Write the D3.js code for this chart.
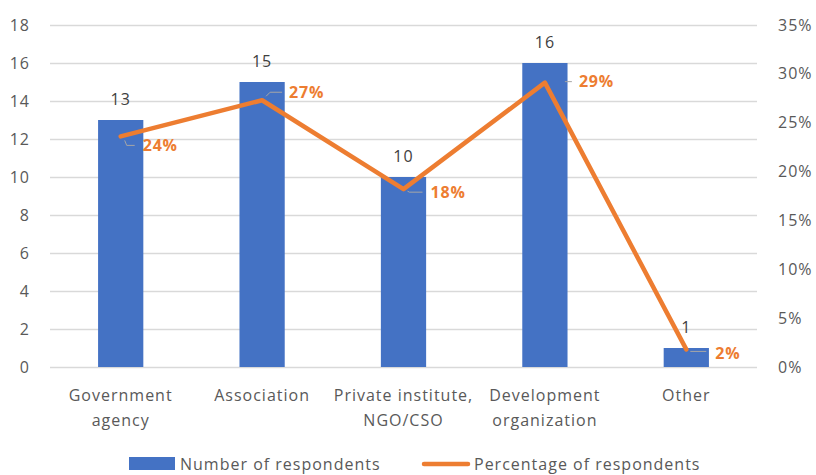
<!DOCTYPE html>
<html>
<head>
<meta charset="utf-8">
<script src="https://cdn.jsdelivr.net/npm/d3@7"></script>
<style>
  body { margin: 0; background: #fff; }
  text { font-family: "Open Sans", Lato, sans-serif; }
</style>
</head>
<body>
<script>
// data
const categories = ["Government agency", "Association", "Private institute, NGO/CSO", "Development organization", "Other"];
const categoryLines = [["Government", "agency"], ["Association"], ["Private institute,", "NGO/CSO"], ["Development", "organization"], ["Other"]];
const respondents = [13, 15, 10, 16, 1];
const percentages = [0.236, 0.273, 0.182, 0.291, 0.018];
const percentLabels = ["24%", "27%", "18%", "29%", "2%"];
const leftTicks = [0, 2, 4, 6, 8, 10, 12, 14, 16, 18];
const rightTicks = [0, 0.05, 0.10, 0.15, 0.20, 0.25, 0.30, 0.35];

// label placement (offset from point, px)
const labelOffsets = [
  { dx: 22, dy: 9, leader: [[4, 4], [6, 9], [14, 9]] },
  { dx: 27, dy: -8, leader: [[4, -4], [8, -8], [20, -8]] },
  { dx: 27, dy: 3, leader: [[4, 2], [6, 3], [19, 3]] },
  { dx: 34, dy: -1, leader: [[20, -1], [27, -1]] },
  { dx: 29, dy: 4, leader: [[4, 2], [20, 2]] }
];

const width = 816, height = 475;
const margin = { top: 25, right: 59, bottom: 108, left: 50 };
const innerW = width - margin.left - margin.right;
const innerH = height - margin.top - margin.bottom;
const fontSize = "16px";
const spacing = "1px";

const svg = d3.select("body").append("svg")
  .attr("width", width)
  .attr("height", height);

const g = svg.append("g")
  .attr("transform", `translate(${margin.left},${margin.top})`);

const x = d3.scaleBand()
  .domain(categories)
  .range([0, innerW])
  .paddingInner(0.68)
  .paddingOuter(0.34);

const yLeft = d3.scaleLinear().domain([0, 18]).range([innerH, 0]);
const yRight = d3.scaleLinear().domain([0, 0.35]).range([innerH, 0]);

// gridlines
g.append("g")
  .selectAll("line")
  .data(leftTicks)
  .join("line")
  .attr("x1", 0)
  .attr("x2", innerW)
  .attr("y1", d => yLeft(d) + 0.5)
  .attr("y2", d => yLeft(d) + 0.5)
  .attr("stroke", "#d9d9d9")
  .attr("stroke-width", 1.3);

// left axis
const leftAxis = g.append("g")
  .call(d3.axisLeft(yLeft).tickValues(leftTicks).tickSize(0).tickPadding(20));
leftAxis.select(".domain").remove();
leftAxis.selectAll("text")
  .attr("fill", "#595959")
  .style("font-size", fontSize)
  .style("letter-spacing", spacing)
  .style("font-family", "'Open Sans', Lato, sans-serif");

// right axis
const rightAxis = g.append("g")
  .attr("transform", `translate(${innerW},0)`)
  .call(d3.axisRight(yRight).tickValues(rightTicks).tickSize(0).tickPadding(21).tickFormat(d3.format(".0%")));
rightAxis.select(".domain").remove();
rightAxis.selectAll("text")
  .attr("fill", "#595959")
  .style("font-size", fontSize)
  .style("letter-spacing", spacing)
  .style("font-family", "'Open Sans', Lato, sans-serif");

// bars
g.selectAll(".bar")
  .data(respondents)
  .join("rect")
  .attr("class", "bar")
  .attr("x", (d, i) => x(categories[i]))
  .attr("y", d => yLeft(d))
  .attr("width", x.bandwidth())
  .attr("height", d => innerH - yLeft(d))
  .attr("fill", "#4472c4");

// bar labels
g.selectAll(".bar-label")
  .data(respondents)
  .join("text")
  .attr("class", "bar-label")
  .attr("x", (d, i) => x(categories[i]) + x.bandwidth() / 2)
  .attr("y", d => yLeft(d) - 15)
  .attr("text-anchor", "middle")
  .attr("fill", "#404040")
  .style("font-size", fontSize)
  .style("letter-spacing", spacing)
  .text(d => d);

// x labels
const xLab = g.selectAll(".x-label")
  .data(categoryLines)
  .join("text")
  .attr("class", "x-label")
  .attr("x", (d, i) => x(categories[i]) + x.bandwidth() / 2)
  .attr("y", innerH + 34)
  .attr("text-anchor", "middle")
  .attr("fill", "#595959")
  .style("font-size", fontSize)
  .style("letter-spacing", spacing);
xLab.selectAll("tspan")
  .data(d => d)
  .join("tspan")
  .attr("x", function() { return d3.select(this.parentNode).attr("x"); })
  .attr("dy", (d, i) => i === 0 ? 0 : 25)
  .text(d => d);

// line
const cx = i => x(categories[i]) + x.bandwidth() / 2;
const line = d3.line()
  .x((d, i) => cx(i))
  .y(d => yRight(d));

// leader lines
g.selectAll(".leader")
  .data(percentages)
  .join("polyline")
  .attr("class", "leader")
  .attr("points", (d, i) => labelOffsets[i].leader.map(p => `${cx(i) + p[0]},${yRight(d) + p[1]}`).join(" "))
  .attr("fill", "none")
  .attr("stroke", "#a6a6a6")
  .attr("stroke-width", 1);

g.append("path")
  .datum(percentages)
  .attr("d", line)
  .attr("fill", "none")
  .attr("stroke", "#ed7d31")
  .attr("stroke-width", 4.5)
  .attr("stroke-linejoin", "round")
  .attr("stroke-linecap", "round");

// percentage labels
g.selectAll(".pct-label")
  .data(percentages)
  .join("text")
  .attr("class", "pct-label")
  .attr("x", (d, i) => cx(i) + labelOffsets[i].dx)
  .attr("y", (d, i) => yRight(d) + labelOffsets[i].dy)
  .attr("dy", "0.35em")
  .attr("fill", "#ed7d31")
  .style("font-size", fontSize)
  .style("font-weight", "bold")
  .style("letter-spacing", "0.8px")
  .text((d, i) => percentLabels[i]);

// legend
const legendY = 464;
const legend = svg.append("g");
legend.append("rect")
  .attr("x", 129).attr("y", legendY - 7)
  .attr("width", 46).attr("height", 13)
  .attr("fill", "#4472c4");
legend.append("text")
  .attr("x", 180).attr("y", legendY)
  .attr("dy", "0.35em")
  .attr("fill", "#595959")
  .style("font-size", fontSize)
  .style("letter-spacing", spacing)
  .text("Number of respondents");
legend.append("line")
  .attr("x1", 424).attr("x2", 468)
  .attr("y1", legendY).attr("y2", legendY)
  .attr("stroke", "#ed7d31")
  .attr("stroke-width", 4.5)
  .attr("stroke-linecap", "round");
legend.append("text")
  .attr("x", 474).attr("y", legendY)
  .attr("dy", "0.35em")
  .attr("fill", "#595959")
  .style("font-size", fontSize)
  .style("letter-spacing", spacing)
  .text("Percentage of respondents");
</script>
</body>
</html>
